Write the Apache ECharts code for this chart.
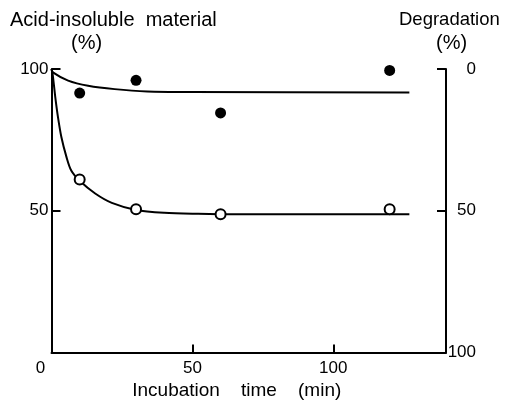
<!DOCTYPE html>
<html>
<head>
<meta charset="utf-8">
<script src="https://cdn.jsdelivr.net/npm/echarts@6/dist/echarts.min.js"></script>
<style>
  html, body { margin:0; padding:0; background:#fff; }
  #chart { width:507px; height:400px; }
</style>
</head>
<body>
<div id="chart"></div>
<script>
// (time in min, value in %)
const xTicks = [0, 50, 100];
const leftTicks = [50, 100];
const rightTicks = [0, 50, 100];

const filledPoints = [[10, 91.5], [30, 96], [60, 84.5], [120, 99.5]];
const openPoints = [[10, 61], [30, 50.5], [60, 48.8], [120, 50.5]];

const topCurve = [[0, 100], [0.5, 98.8], [5.9, 95.9], [13, 94.1], [22.4, 92.9], [34, 92.1], [50, 91.9], [127, 91.7]];
const bottomCurve = [[0, 100], [0.4, 98.2], [1.35, 90], [2.3, 83], [3.5, 76], [5.3, 69], [7, 64.2], [10, 60.6],
    [15.5, 56.1], [21.4, 52.8], [30, 50.3], [40, 49.3], [52, 48.9], [60, 48.8], [127, 48.8]];

const ink = '#000';
const font = 'Liberation Sans';
const fs = 17;

let myChart = echarts.init(document.getElementById('chart'));
let option = {
    backgroundColor:'#fff',
    animation:false,
    textStyle:{ fontFamily:font, color:ink },
    title:[
        { text:'Acid-insoluble  material', left:10, top:10, padding:0, textStyle:{ fontFamily:font, fontSize:20, fontWeight:'normal', color:ink } },
        { text:'(%)', left:71, top:33, padding:0, textStyle:{ fontFamily:font, fontSize:20, fontWeight:'normal', color:ink } },
        { text:'Degradation', left:399, top:10, padding:0, textStyle:{ fontFamily:font, fontSize:18.5, fontWeight:'normal', color:ink } },
        { text:'(%)', left:436, top:33, padding:0, textStyle:{ fontFamily:font, fontSize:20, fontWeight:'normal', color:ink } }
    ],
    grid:{ left:51.5, right:61, top:69, bottom:47.5, containLabel:false, outerBoundsMode:'none' },
    xAxis:{
        type:'value',
        min:0,
        max:140,
        interval:50,
        name:'Incubation    time    (min)',
        nameLocation:'middle',
        nameGap:27,
        nameTextStyle:{ fontFamily:font, fontSize:19, color:ink, padding:[0, 24, 0, 0] },
        splitLine:{ show:false },
        axisLine:{ show:true, onZero:false, lineStyle:{ color:ink, width:2 } },
        axisTick:{ show:true, inside:true, length:8, customValues:[50, 100], lineStyle:{ color:ink, width:2 } },
        axisLabel:{
            customValues:xTicks,
            margin:7,
            fontFamily:font,
            fontSize:fs,
            color:ink,
            formatter:(v)=>{
                return v === 0 ? '{z|0}' : String(v);
            },
            rich:{ z:{ fontFamily:font, fontSize:fs, color:ink, padding:[0, 22, 0, 0] } }
        }
    },
    yAxis:[
        {
            type:'value',
            min:0,
            max:100,
            interval:50,
            position:'left',
            splitLine:{ show:false },
            axisLine:{ show:true, onZero:false, lineStyle:{ color:ink, width:2 } },
            axisTick:{ show:true, inside:true, length:9, customValues:[50, 100], lineStyle:{ color:ink, width:2 } },
            axisLabel:{ customValues:leftTicks, margin:3, fontFamily:font, fontSize:fs, color:ink }
        },
        {
            type:'value',
            min:0,
            max:100,
            interval:50,
            inverse:true,
            position:'right',
            splitLine:{ show:false },
            axisLine:{ show:true, onZero:false, lineStyle:{ color:ink, width:2 } },
            axisTick:{ show:true, inside:true, length:9, customValues:[0, 50], lineStyle:{ color:ink, width:2 } },
            axisLabel:{ customValues:rightTicks, margin:30, align:'right', fontFamily:font, fontSize:fs, color:ink }
        }
    ],
    series:[
        {
            type:'line',
            data:topCurve,
            symbol:'none',
            smooth:0.3,
            lineStyle:{ color:ink, width:2 },
            z:2
        },
        {
            type:'line',
            data:bottomCurve,
            symbol:'none',
            smooth:0.3,
            lineStyle:{ color:ink, width:2 },
            z:2
        },
        {
            type:'scatter',
            data:filledPoints,
            symbol:'circle',
            symbolSize:11,
            itemStyle:{ color:ink, opacity:1 },
            z:3
        },
        {
            type:'scatter',
            data:openPoints,
            symbol:'circle',
            symbolSize:10,
            itemStyle:{ color:'#fff', borderColor:ink, borderWidth:2, opacity:1 },
            z:3
        }
    ]
};
myChart.setOption(option);
</script>
</body>
</html>
